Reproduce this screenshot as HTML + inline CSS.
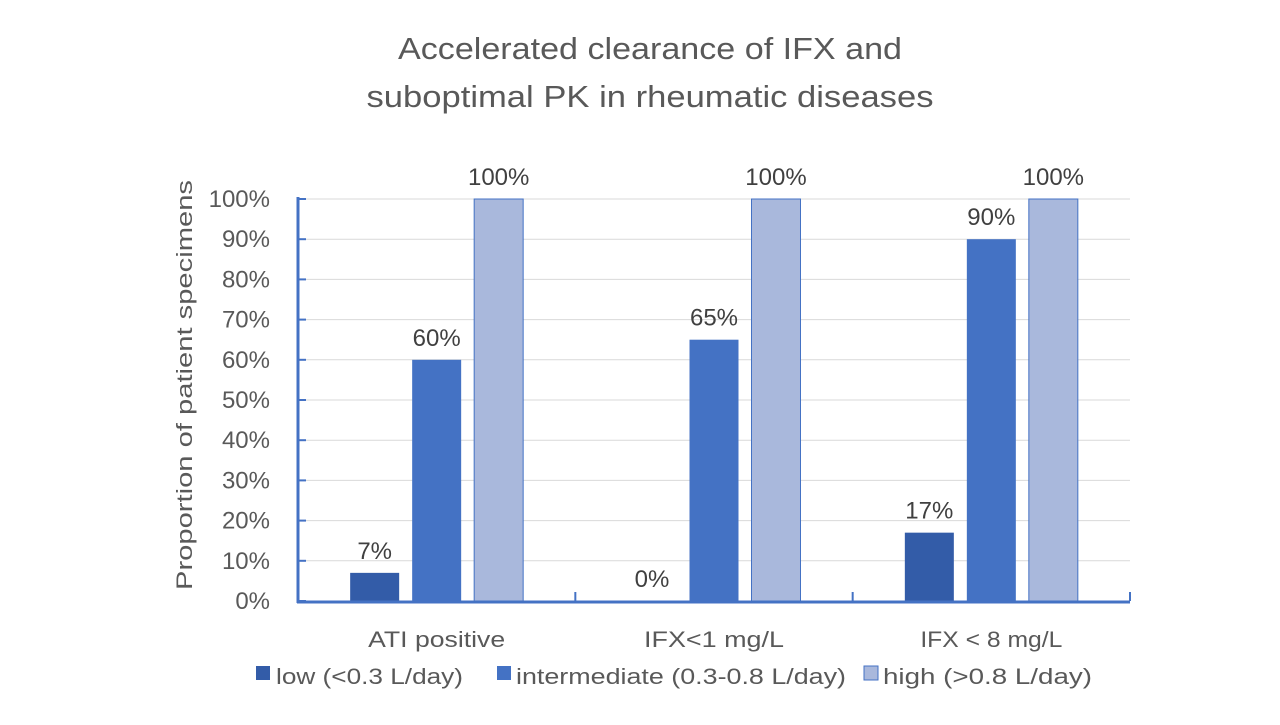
<!DOCTYPE html>
<html><head><meta charset="utf-8"><style>
body{margin:0;width:1280px;height:720px;background:#fff;overflow:hidden;font-family:"Liberation Sans",sans-serif}
</style></head><body>
<svg id="c" width="1280" height="720" font-family="Liberation Sans, sans-serif">
<text x="650" y="59" text-anchor="middle" font-size="31" fill="#595959" textLength="504" lengthAdjust="spacingAndGlyphs">Accelerated clearance of IFX and</text>
<text x="650" y="107" text-anchor="middle" font-size="31" fill="#595959" textLength="567" lengthAdjust="spacingAndGlyphs">suboptimal PK in rheumatic diseases</text>
<text transform="translate(192,385) rotate(-90)" text-anchor="middle" font-size="22" fill="#595959" textLength="410" lengthAdjust="spacingAndGlyphs">Proportion of patient specimens</text>
<g id="grid"></g><g id="bars"></g><g id="axes"></g>
<g font-size="22" fill="#595959">
<rect x="256" y="666" width="14" height="14" fill="#335ca8"/>
<text x="276" y="684" textLength="187" lengthAdjust="spacingAndGlyphs">low (&lt;0.3 L/day)</text>
<rect x="497" y="666" width="14" height="14" fill="#4472c4"/>
<text x="516" y="684" textLength="330" lengthAdjust="spacingAndGlyphs">intermediate (0.3-0.8 L/day)</text>
<rect x="864" y="666" width="14" height="14" fill="#a9b8dc" stroke="#4472c4"/>
<text x="883" y="684" textLength="209" lengthAdjust="spacingAndGlyphs">high (&gt;0.8 L/day)</text>
</g>
</svg>
<script>
const categories=["ATI positive","IFX<1 mg/L","IFX < 8 mg/L"];
const catWidths=[137,140,142];
const lowVals=[7,0,17];
const midVals=[60,65,90];
const highVals=[100,100,100];
const yTicks=[0,10,20,30,40,50,60,70,80,90,100];
const NS="http://www.w3.org/2000/svg";
const x0=298,x1=1130,yb=601,yt=199;
const y=v=>yb-(v/100)*(yb-yt);
const gw=(x1-x0)/categories.length;
function mk(t,a,p){const e=document.createElementNS(NS,t);for(const k in a)e.setAttribute(k,a[k]);p.appendChild(e);return e;}
const grid=document.getElementById('grid'),bars=document.getElementById('bars'),axes=document.getElementById('axes');
yTicks.forEach(v=>{
 if(v>0){const l=mk('line',{x1:x0,x2:x1,y1:y(v),y2:y(v),stroke:'#d9d9d9','stroke-width':1},grid);
 
 }
 const t=mk('text',{x:x0-28,y:y(v)+8,'text-anchor':'end','font-size':24,fill:'#595959'},axes);t.textContent=v+'%';
 
 
 const tk=mk('line',{x1:x0,x2:x0+8,y1:y(v),y2:y(v),stroke:'#4472c4','stroke-width':2},axes);
 
 
});
const series=[[lowVals,'#335ca8','none','low'],[midVals,'#4472c4','none','intermediate'],[highVals,'#a9b8dc','#4472c4','high']];
const bw=49,gap=13;
categories.forEach((c,i)=>{
 const cx=x0+gw*(i+0.5);
 series.forEach((s,j)=>{
  const v=s[0][i];const bx=cx+(j-1)*(bw+gap)-bw/2;
  if(v>0){const r=mk('rect',{x:bx,y:y(v),width:bw,height:yb-y(v),fill:s[1],stroke:s[2]},bars);
  
  }
  const t=mk('text',{x:bx+bw/2,y:y(v)-14,'text-anchor':'middle','font-size':24,fill:'#404040'},bars);t.textContent=v+'%';
  
  
 });
 const t=mk('text',{x:cx,y:647,'text-anchor':'middle','font-size':22,fill:'#595959',textLength:catWidths[i],lengthAdjust:'spacingAndGlyphs'},axes);t.textContent=c;
 
 
 const tk=mk('line',{x1:x0+gw*(i+1),x2:x0+gw*(i+1),y1:yb,y2:yb-9,stroke:'#4472c4','stroke-width':2},axes);
 
 
});
const ya=mk('line',{x1:x0,x2:x0,y1:yt-2,y2:yb+2,stroke:'#4472c4','stroke-width':3},axes);


const xa=mk('line',{x1:x0-1,x2:x1,y1:yb+1,y2:yb+1,stroke:'#4472c4','stroke-width':3},axes);


</script>
</body></html>
